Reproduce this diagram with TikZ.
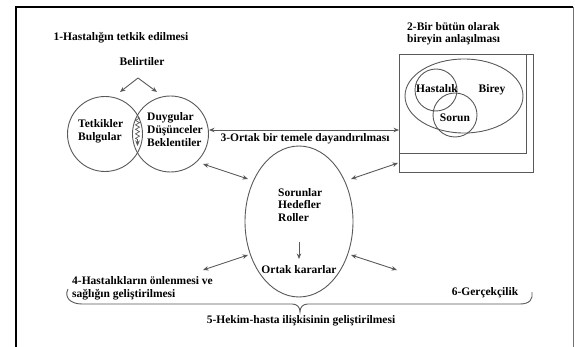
\documentclass[tikz,border=0pt]{standalone}
\usepackage{fontspec}
\setmainfont{Liberation Serif}[BoldFont={Liberation Serif Bold}]
\usetikzlibrary{arrows.meta,decorations.pathmorphing,shapes.geometric}
\begin{document}
\begin{tikzpicture}[x=1pt,y=-1pt,
  lbl/.style={font=\rmfamily\bfseries\fontsize{11.5}{12.8}\selectfont, inner sep=0pt, align=left, text=black},
  ln/.style={draw=black!65, line width=0.9pt},
  tip/.style={-{Stealth[length=5.5pt,width=4.5pt]}},
  arr/.style={ln, {Stealth[length=5.5pt,width=4.5pt]}-{Stealth[length=5.5pt,width=4.5pt]}},
  circ/.style={ln, circle, inner sep=0pt},
  ell/.style={ln, ellipse, inner sep=0pt}
]
\useasboundingbox (0,0) rectangle (575,347);
% frame
\coordinate (f1) at (16,347);
\coordinate (f2) at (16,7);
\coordinate (f3) at (573,7);
\coordinate (f4) at (573,347);
\draw[line width=1.1pt] (f1) -- (f2) -- (f3);
\draw[black!55, line width=0.9pt] (f3) -- (f4);

% 1
\node[lbl] (t1) at (121,38) {1-Hastalığın tetkik edilmesi};
\node[lbl] (bel) at (142,62) {Belirtiler};
\coordinate (apex) at (138,78);
\coordinate (tl) at (120,92);
\coordinate (tr) at (157,92);
\draw[ln, tip] (apex) -- (tl);
\draw[ln, tip] (apex) -- (tr);
\node[circ, minimum size=75pt] (lc) at (105,134) {};
\node[circ, minimum size=76pt] (rc) at (170.5,134) {};
\node[lbl, anchor=west] (tb) at (78,131) {Tetkikler\\Bulgular};
\node[lbl, anchor=west] (ddb) at (147,129.5) {Duygular\\Düşünceler\\Beklentiler};
\coordinate (z1) at (137.5,117);
\coordinate (z2) at (137.5,146);
\draw[ln, line width=0.7pt, tip, decorate, decoration={zigzag, amplitude=2pt, segment length=4.5pt, post length=6pt}] (z1) -- (z2);

% 2
\node[lbl, anchor=north west] (t2) at (407,22) {2-Bir bütün olarak\\bireyin anlaşılması};
\node[ln, draw, rectangle, minimum width=134pt, minimum height=118pt, inner sep=0pt] (box) at (466,113) {};
\coordinate (bi1) at (526,54);
\coordinate (bi2) at (526,153);
\coordinate (bi3) at (399,153);
\draw[ln] (bi1) -- (bi2) -- (bi3);
\node[ell, minimum width=118pt, minimum height=74pt] (birey) at (464,96) {};
\node[circ, minimum size=42pt] (hc) at (436,90) {};
\node[circ, minimum size=44pt] (sc) at (455,115) {};
\node[lbl] (th) at (437,89) {Hastalık};
\node[lbl] (tbi) at (492,90) {Birey};
\node[lbl] (ts) at (455,118) {Sorun};

% 3
\coordinate (h1) at (209,130);
\coordinate (h2) at (399,130);
\draw[arr] (h1) -- (h2);
\node[lbl] (t3) at (305,139) {3-Ortak bir temele dayandırılması};

% center ellipse
\node[ell, minimum width=108pt, minimum height=151pt] (big) at (299,221.5) {};
\node[lbl, anchor=west] (srh) at (278,205) {Sorunlar\\Hedefler\\Roller};
\coordinate (d1) at (299,242);
\coordinate (d2) at (299,259);
\draw[ln, tip] (d1) -- (d2);
\node[lbl] (ok) at (299,270) {Ortak kararlar};

\coordinate (ul1) at (248,179);
\coordinate (ul2) at (203,164);
\coordinate (ur1) at (351,179);
\coordinate (ur2) at (398,163);
\coordinate (ll1) at (248,255);
\coordinate (ll2) at (203,270);
\coordinate (lr1) at (351,255);
\coordinate (lr2) at (397,270);
\draw[arr] (ul1) -- (ul2);
\draw[arr] (ur1) -- (ur2);
\draw[arr] (ll1) -- (ll2);
\draw[arr] (lr1) -- (lr2);

% 4, 5, 6
\node[lbl, anchor=west] (t4) at (72,288) {4-Hastalıkların önlenmesi ve\\sağlığın geliştirilmesi};
\node[lbl] (t6) at (485,293) {6-Gerçekçilik};
\node[lbl] (t5) at (301,321) {5-Hekim-hasta ilişkisinin geliştirilmesi};
\coordinate (b1) at (68,289);
\coordinate (b2) at (82,304);
\coordinate (b3) at (292,304);
\coordinate (btip) at (300,312);
\coordinate (b4) at (308,304);
\coordinate (b5) at (520,304);
\coordinate (b6) at (532,292);
\draw[ln] (b1) .. controls (64,297) and (70,304) .. (b2) -- (b3)
  .. controls (297,304) and (300,307) .. (btip)
  .. controls (300,307) and (303,304) .. (b4) -- (b5)
  .. controls (530,304) and (533,299) .. (b6);
\end{tikzpicture}
\end{document}
